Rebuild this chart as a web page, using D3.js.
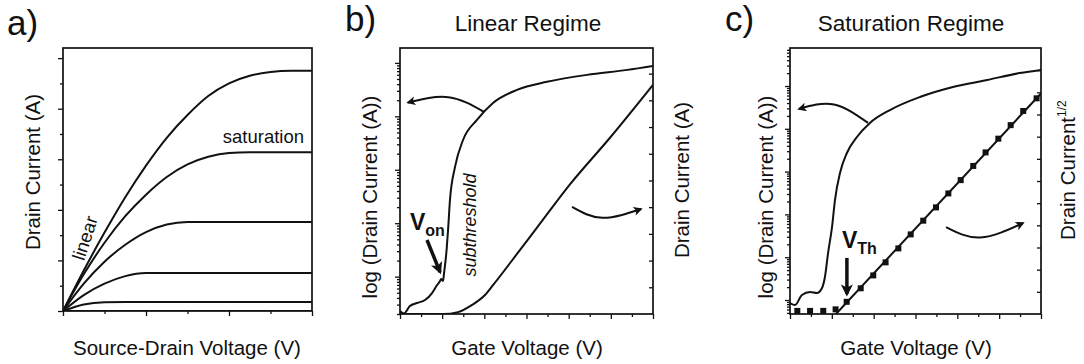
<!DOCTYPE html>
<html>
<head>
<meta charset="utf-8">
<script src="https://cdn.jsdelivr.net/npm/d3@7"></script>
<style>
  body { margin: 0; background: #fff; }
  svg { display: block; }
  text { font-family: "Liberation Sans", Arial, sans-serif; fill: #111; }
</style>
</head>
<body>
<svg width="1084" height="364"></svg>
<script>
// a) output curves: source-drain voltage (tick units) vs drain current (minor tick units)
const vds = [0, 0.5, 1, 1.5, 2, 2.5, 3, 3.5, 4, 4.5, 5, 5.5, 6];
const idOut1 = [0, 1.6, 3.1, 4.5, 5.75, 6.85, 7.75, 8.5, 9.0, 9.3, 9.45, 9.5, 9.5];
const idOut2 = [0, 1.45, 2.7, 3.75, 4.6, 5.3, 5.8, 6.1, 6.25, 6.28, 6.28, 6.28, 6.28];
const idOut3 = [0, 1.08, 1.95, 2.62, 3.12, 3.42, 3.52, 3.52, 3.52, 3.52, 3.52, 3.52, 3.52];
const idOut4 = [0, 0.63, 1.08, 1.38, 1.5, 1.5, 1.5, 1.5, 1.5, 1.5, 1.5, 1.5, 1.5];
const idOut5 = [0, 0.26, 0.35, 0.36, 0.36, 0.36, 0.36, 0.36, 0.36, 0.36, 0.36, 0.36, 0.36];
const idOut6 = [0, 0, 0, 0, 0, 0, 0, 0, 0, 0, 0, 0, 0];

// b) linear regime transfer curve
const gateLogB = [0, 0.19, 0.47, 0.81, 1.19, 1.52, 1.76, 1.90, 1.95, 2.04, 2.09, 2.21, 2.28, 2.37, 2.61, 2.99, 3.65, 4.41, 5.55, 6.97, 8.87, 10.77, 12];
const logIdB = [2.27e-13, 2.04e-13, 2.82e-13, 3.21e-13, 3.65e-13, 4.93e-13, 6.97e-13, 8.28e-13, 9.02e-13, 8.28e-13, 1.17e-12, 3.16e-12, 7.46e-12, 2.72e-11, 1.13e-10, 3.61e-10, 8.57e-10, 1.78e-9, 3.13e-9, 4.42e-9, 5.97e-9, 7.40e-9, 8.79e-9];
const gateLinB = [0, 2.04, 2.75, 3.42, 4.03, 4.43, 5.55, 6.8, 8.06, 9.96, 12];
const linIdB = [0, 0, 0.07, 0.34, 0.71, 1.1, 2.25, 3.55, 4.85, 6.6, 8.58];

// c) saturation regime transfer curve
const gateLogC = [0, 0.24, 0.57, 0.96, 1.29, 1.53, 1.67, 1.82, 2.01, 2.15, 2.39, 2.72, 3.20, 3.82, 4.78, 6.21, 7.79, 9.42, 10.99, 12];
const logIdC = [8.5e-14, 7.64e-14, 1.31e-13, 1.54e-13, 1.46e-13, 1.91e-13, 3.44e-13, 1.25e-12, 5.08e-12, 2.17e-11, 9.27e-11, 2.72e-10, 6.43e-10, 1.37e-9, 2.75e-9, 5.53e-9, 9.48e-9, 1.38e-8, 2.01e-8, 2.37e-8];
const gateSqC = [0.35, 0.96, 1.59, 2.18, 2.71, 3.38, 3.98, 4.57, 5.18, 5.77, 6.37, 6.98, 7.57, 8.16, 8.76, 9.35, 9.96, 10.55, 11.15, 11.79];
const sqrtIdC = [0.14, 0.14, 0.14, 0.21, 0.55, 1.16, 1.74, 2.33, 2.96, 3.59, 4.21, 4.81, 5.44, 6.04, 6.68, 7.29, 7.91, 8.52, 9.16, 9.73];
const fitGateC = [2.2, 12];
const fitSqrtC = [0, 9.95];

// annotation arrows, in each panel's x / linear-y units
const arrowB1 = [[3.98, 7.57], [2.3, 8.12], [0.38, 7.92]];
const arrowB2 = [[8.16, 4.01], [9.6, 3.6], [11.43, 3.93]];
const arrowVon = [[1.28, 2.77], [1.9, 1.57]];
const arrowC1 = [[3.73, 8.62], [2.1, 9.45], [0.43, 9.25]];
const arrowC2 = [[7.46, 3.92], [9.1, 3.45], [11.14, 4.1]];
const arrowVth = [[2.72, 2.53], [2.72, 0.9]];

const svg = d3.select('svg');
const INK = '#111';

const defs = svg.append('defs');
function arrowMarker(id, w, h) {
    defs.append('marker')
        .attr('id', id)
        .attr('viewBox', '0 0 10 10')
        .attr('refX', 8).attr('refY', 5)
        .attr('markerUnits', 'userSpaceOnUse')
        .attr('markerWidth', w).attr('markerHeight', h)
        .attr('orient', 'auto')
        .append('path')
        .attr('d', 'M0,0 L10,5 L0,10 L2.5,5 Z')
        .attr('fill', INK);
}
arrowMarker('head', 12, 9);
arrowMarker('headBig', 14, 12);

function ticks(g, axis, scale, values, size, transform) {
    g.append('g')
        .attr('transform', transform)
        .call(axis(scale).tickValues(values).tickSize(size).tickFormat(''))
        .call(s => s.select('.domain').remove())
        .selectAll('line')
        .attr('stroke', INK)
        .attr('stroke-width', 1.3);
}

function frame(g, x, y, id) {
    const [x0, x1] = x.range();
    const [y1, y0] = y.range();
    g.append('clipPath').attr('id', id)
        .append('rect').attr('x', x0).attr('y', y0).attr('width', x1 - x0).attr('height', y1 - y0);
    return () => g.append('rect')
        .attr('x', x0).attr('y', y0).attr('width', x1 - x0).attr('height', y1 - y0)
        .attr('fill', 'none').attr('stroke', INK).attr('stroke-width', 1.7);
}

function curve(g, xs, ys, x, y, clip) {
    const line = d3.line()
        .x(i => x(xs[i]))
        .y(i => y(ys[i]))
        .curve(d3.curveMonotoneX);
    g.append('path')
        .attr('d', line(d3.range(xs.length)))
        .attr('clip-path', `url(#${clip})`)
        .attr('fill', 'none')
        .attr('stroke', INK)
        .attr('stroke-width', 2);
}

function arrow(g, pts, x, y, width, head) {
    const line = d3.line().x(d => x(d[0])).y(d => y(d[1])).curve(d3.curveNatural);
    g.append('path')
        .attr('d', line(pts))
        .attr('fill', 'none')
        .attr('stroke', INK)
        .attr('stroke-width', width)
        .attr('marker-end', `url(#${head})`);
}

function vLabel(g, txt, cx, cy, size) {
    g.append('text')
        .attr('transform', `translate(${cx},${cy}) rotate(-90)`)
        .attr('text-anchor', 'middle')
        .attr('font-size', size)
        .text(txt);
}

const isDecade = v => Math.abs(Math.log10(v) - Math.round(Math.log10(v))) < 1e-6;

// ---------- a) ----------
{
    const g = svg.append('g');
    const x = d3.scaleLinear().domain([0, 6]).range([63, 312]);
    const y = d3.scaleLinear().domain([0, 10.4]).range([311, 48]);
    const drawFrame = frame(g, x, y, 'clipA');

    [idOut1, idOut2, idOut3, idOut4, idOut5, idOut6].forEach(ys => curve(g, vds, ys, x, y, 'clipA'));

    ticks(g, d3.axisLeft, y, d3.range(0, 11, 2), 5, `translate(63,0)`);
    ticks(g, d3.axisLeft, y, d3.range(1, 11, 2), 3, `translate(63,0)`);
    ticks(g, d3.axisBottom, x, [0, 2, 4, 6], 5, `translate(0,311)`);
    ticks(g, d3.axisBottom, x, [1, 3, 5], 3, `translate(0,311)`);
    drawFrame();

    g.append('text').attr('x', 7).attr('y', 35).attr('font-size', 35).text('a)');
    vLabel(g, 'Drain Current (A)', 40, 172, 20.5);
    g.append('text').attr('x', 187).attr('y', 355).attr('text-anchor', 'middle').attr('font-size', 20.5).text('Source-Drain Voltage (V)');
    g.append('text').attr('x', 304).attr('y', 143).attr('text-anchor', 'end').attr('font-size', 18.5).text('saturation');
    g.append('text')
        .attr('transform', 'translate(91,240) rotate(-72)')
        .attr('text-anchor', 'middle').attr('font-size', 18.5).text('linear');
}

// ---------- b) ----------
{
    const g = svg.append('g');
    const x = d3.scaleLinear().domain([0, 12]).range([400, 653]);
    const yLog = d3.scaleLog().domain([2e-13, 1.9e-8]).range([314, 48]);
    const yLin = d3.scaleLinear().domain([0, 9.96]).range([314, 48]);
    const drawFrame = frame(g, x, yLin, 'clipB');

    curve(g, gateLogB, logIdB, x, yLog, 'clipB');
    curve(g, gateLinB, linIdB, x, yLin, 'clipB');

    const logTicks = yLog.ticks();
    ticks(g, d3.axisLeft, yLog, logTicks.filter(isDecade), 5, `translate(400,0)`);
    ticks(g, d3.axisLeft, yLog, logTicks.filter(v => !isDecade(v)), 3, `translate(400,0)`);
    ticks(g, d3.axisLeft, yLin, d3.range(1, 10), 4, `translate(653,0)`);
    ticks(g, d3.axisBottom, x, d3.range(0, 13, 2), 5, `translate(0,314)`);
    ticks(g, d3.axisBottom, x, d3.range(1, 13, 2), 3, `translate(0,314)`);
    drawFrame();

    arrow(g, arrowB1, x, yLin, 2, 'head');
    arrow(g, arrowB2, x, yLin, 2, 'head');
    arrow(g, arrowVon, x, yLin, 3.5, 'headBig');

    g.append('text').attr('x', 345).attr('y', 31).attr('font-size', 35).text('b)');
    g.append('text').attr('x', 528).attr('y', 31).attr('text-anchor', 'middle').attr('font-size', 22.5).text('Linear Regime');
    vLabel(g, 'log (Drain Current (A))', 377, 197, 20.5);
    vLabel(g, 'Drain Current (A)', 689, 180, 20.5);
    g.append('text').attr('x', 527).attr('y', 355).attr('text-anchor', 'middle').attr('font-size', 20.5).text('Gate Voltage (V)');
    g.append('text')
        .attr('transform', 'translate(476,225) rotate(-90)')
        .attr('text-anchor', 'middle').attr('font-size', 18).attr('font-style', 'italic').text('subthreshold');
    const von = g.append('text').attr('x', 410).attr('y', 230).attr('font-weight', 'bold').attr('font-size', 23);
    von.append('tspan').text('V');
    von.append('tspan').attr('dy', 6).attr('font-size', 16).text('on');
}

// ---------- c) ----------
{
    const g = svg.append('g');
    const x = d3.scaleLinear().domain([0, 12]).range([790, 1041]);
    const yLog = d3.scaleLog().domain([4.71e-14, 7.73e-8]).range([314, 48]);
    const yLin = d3.scaleLinear().domain([0, 12]).range([314, 48]);
    const drawFrame = frame(g, x, yLin, 'clipC');

    curve(g, gateLogC, logIdC, x, yLog, 'clipC');
    g.append('path')
        .attr('d', d3.line().x(i => x(fitGateC[i])).y(i => yLin(fitSqrtC[i]))(d3.range(fitGateC.length)))
        .attr('clip-path', 'url(#clipC)')
        .attr('fill', 'none').attr('stroke', INK).attr('stroke-width', 2);
    g.selectAll('.sq')
        .data(d3.range(gateSqC.length))
        .enter()
        .append('rect')
        .classed('sq', true)
        .attr('x', i => x(gateSqC[i]) - 3)
        .attr('y', i => yLin(sqrtIdC[i]) - 3)
        .attr('width', 6).attr('height', 6)
        .attr('fill', INK);

    const logTicks = yLog.ticks();
    ticks(g, d3.axisLeft, yLog, logTicks.filter(isDecade), 5, `translate(790,0)`);
    ticks(g, d3.axisLeft, yLog, logTicks.filter(v => !isDecade(v)), 3, `translate(790,0)`);
    ticks(g, d3.axisLeft, yLin, d3.range(1, 12), 4, `translate(1041,0)`);
    ticks(g, d3.axisBottom, x, d3.range(0, 13, 2), 5, `translate(0,314)`);
    ticks(g, d3.axisBottom, x, d3.range(1, 13, 2), 3, `translate(0,314)`);
    drawFrame();

    arrow(g, arrowC1, x, yLin, 2, 'head');
    arrow(g, arrowC2, x, yLin, 2, 'head');
    arrow(g, arrowVth, x, yLin, 3.5, 'headBig');

    g.append('text').attr('x', 725).attr('y', 31).attr('font-size', 35).text('c)');
    g.append('text').attr('x', 911).attr('y', 31).attr('text-anchor', 'middle').attr('font-size', 22.5).text('Saturation Regime');
    vLabel(g, 'log (Drain Current (A))', 773, 197, 20.5);
    g.append('text').attr('x', 916).attr('y', 355).attr('text-anchor', 'middle').attr('font-size', 20.5).text('Gate Voltage (V)');
    const rl = g.append('text')
        .attr('transform', 'translate(1075,240) rotate(-90)')
        .attr('font-size', 20.5);
    rl.append('tspan').text('Drain Current');
    rl.append('tspan').attr('dy', -9).attr('font-size', 12).text('1/2');
    const vth = g.append('text').attr('x', 842).attr('y', 248).attr('font-weight', 'bold').attr('font-size', 23);
    vth.append('tspan').text('V');
    vth.append('tspan').attr('dy', 6).attr('font-size', 16).text('Th');
}
</script>
</body>
</html>
